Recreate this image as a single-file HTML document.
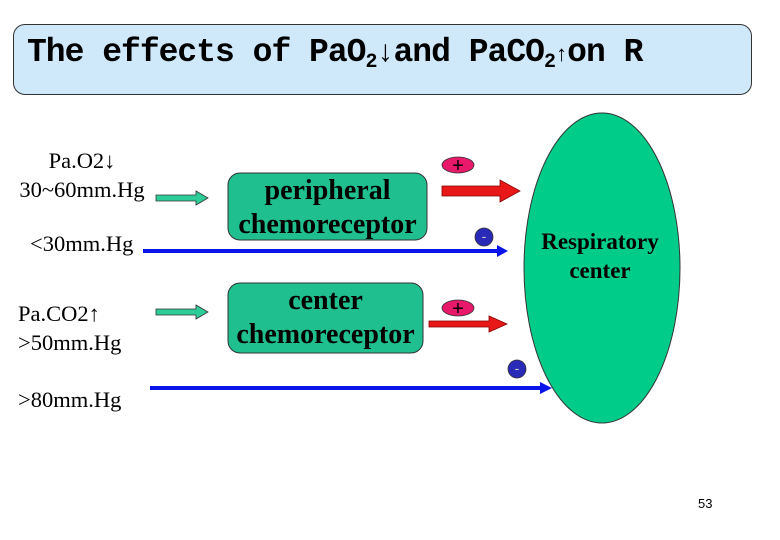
<!DOCTYPE html>
<html><head><style>
body{margin:0;width:780px;height:540px;background:#fff;position:relative;overflow:hidden;font-family:"Liberation Serif",serif;}
.t{position:absolute;white-space:nowrap;}
sub{font-size:20px;vertical-align:-6px;line-height:0;}
</style></head><body>
<div style="position:absolute;left:13px;top:24px;width:737px;height:69px;background:#cfe9fb;border:1px solid #333;border-radius:12px;"></div>
<div class="t" style="left:27px;top:34px;font-family:'Liberation Mono',monospace;font-weight:bold;font-size:33px;letter-spacing:-1px;">The effects of PaO<sub>2</sub><span style="font-size:30px">↓</span>and PaCO<sub>2</sub><span style="font-size:22px">↑</span>on R</div>
<svg width="780" height="540" style="position:absolute;left:0;top:0">
<ellipse cx="602" cy="268" rx="78" ry="155" fill="#00cc8a" stroke="#333" stroke-width="1"/>
<rect x="228" y="173" width="199" height="67" rx="12" fill="#1fbf8f" stroke="#333"/>
<rect x="228" y="283" width="195" height="70" rx="12" fill="#1fbf8f" stroke="#333"/>
<polygon points="156,195 196,195 196,191 208,198 196,205 196,201 156,201" fill="#2dcc99" stroke="#333" stroke-width="0.8"/>
<polygon points="156,309 196,309 196,305 208,312 196,319 196,315 156,315" fill="#2dcc99" stroke="#333" stroke-width="0.8"/>
<polygon points="442,186 500,186 500,180 520,191 500,202 500,196 442,196" fill="#e81818" stroke="#800" stroke-width="0.8"/>
<polygon points="429,321 489,321 489,316 507,324 489,332 489,327 429,327" fill="#e81818" stroke="#800" stroke-width="0.8"/>
<line x1="143" y1="251" x2="500" y2="251" stroke="#0a14e8" stroke-width="4"/>
<polygon points="497,245 508,251 497,257" fill="#0a14e8"/>
<line x1="150" y1="388" x2="545" y2="388" stroke="#0a14e8" stroke-width="4"/>
<polygon points="540,382 552,388 540,394" fill="#0a14e8"/>
<ellipse cx="458" cy="165" rx="16" ry="8" fill="#e8186a" stroke="#333" stroke-width="0.8"/>
<ellipse cx="458" cy="308" rx="16" ry="8" fill="#e8186a" stroke="#333" stroke-width="0.8"/>
<circle cx="484" cy="237" r="9" fill="#2a2ab8" stroke="#333" stroke-width="0.8"/>
<circle cx="517" cy="369" r="9" fill="#2a2ab8" stroke="#333" stroke-width="0.8"/>
<text x="458" y="172" font-size="20" text-anchor="middle" font-family="Liberation Sans">+</text>
<text x="458" y="315" font-size="20" text-anchor="middle" font-family="Liberation Sans">+</text>
<text x="484" y="241" font-size="14" text-anchor="middle" font-family="Liberation Sans" fill="#ccc">-</text>
<text x="517" y="373" font-size="14" text-anchor="middle" font-family="Liberation Sans" fill="#ccc">-</text>
</svg>
<div class="t" style="left:218px;top:174px;width:219px;text-align:center;font-size:28px;font-weight:bold;line-height:34px;">peripheral<br>chemoreceptor</div>
<div class="t" style="left:216px;top:284px;width:219px;text-align:center;font-size:28px;font-weight:bold;line-height:34px;">center<br>chemoreceptor</div>
<div class="t" style="left:520px;top:227px;width:160px;text-align:center;font-size:23px;font-weight:bold;line-height:29px;">Respiratory<br>center</div>
<div class="t" style="left:4px;top:146px;width:156px;text-align:center;font-size:22.5px;line-height:29px;">Pa.O2↓<br>30~60mm.Hg</div>
<div class="t" style="left:30px;top:231px;font-size:22.5px;">&lt;30mm.Hg</div>
<div class="t" style="left:18px;top:299px;font-size:22.5px;line-height:29px;">Pa.CO2↑<br>&gt;50mm.Hg</div>
<div class="t" style="left:18px;top:387px;font-size:22.5px;">&gt;80mm.Hg</div>
<div class="t" style="left:698px;top:496px;font-size:13px;font-family:'Liberation Sans',sans-serif;">53</div>
</body></html>
